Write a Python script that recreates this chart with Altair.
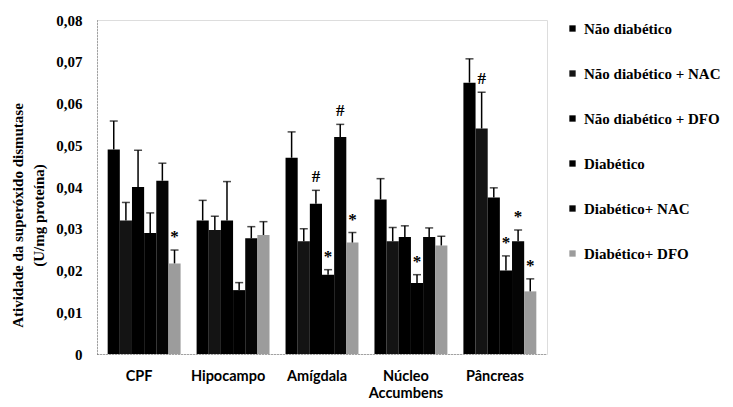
import altair as alt
import pandas as pd

groups = ["CPF", "Hipocampo", "Amígdala", "Núcleo Accumbens", "Pâncreas"]
series = ["Não diabético", "Não diabético + NAC", "Não diabético + DFO",
          "Diabético", "Diabético+ NAC", "Diabético+ DFO"]
colors = ["#000000", "#141414", "#000000", "#000000", "#050505", "#9c9c9c"]

# mean values per series (order of groups)
nd = [0.049, 0.032, 0.047, 0.037, 0.065]
nd_nac = [0.032, 0.0297, 0.027, 0.027, 0.054]
nd_dfo = [0.040, 0.032, 0.036, 0.028, 0.0375]
d = [0.029, 0.0153, 0.019, 0.017, 0.020]
d_nac = [0.0415, 0.0277, 0.052, 0.028, 0.027]
d_dfo = [0.0217, 0.0285, 0.0267, 0.026, 0.015]

# error bar upper extents (above the mean)
nd_err = [0.0068, 0.0048, 0.0062, 0.005, 0.0057]
nd_nac_err = [0.0043, 0.0033, 0.003, 0.0033, 0.0087]
nd_dfo_err = [0.0088, 0.0093, 0.0032, 0.0027, 0.0023]
d_err = [0.0048, 0.0018, 0.0012, 0.002, 0.0035]
d_nac_err = [0.0042, 0.0028, 0.003, 0.0022, 0.0027]
d_dfo_err = [0.0032, 0.0032, 0.0024, 0.0022, 0.003]

# significance marks
nd_mark = ["", "", "", "", ""]
nd_nac_mark = ["", "", "", "", "#"]
nd_dfo_mark = ["", "", "#", "", ""]
d_mark = ["", "", "*", "*", "*"]
d_nac_mark = ["", "", "#", "", "*"]
d_dfo_mark = ["*", "", "*", "", "*"]

means = [nd, nd_nac, nd_dfo, d, d_nac, d_dfo]
errs = [nd_err, nd_nac_err, nd_dfo_err, d_err, d_nac_err, d_dfo_err]
marks = [nd_mark, nd_nac_mark, nd_dfo_mark, d_mark, d_nac_mark, d_dfo_mark]

rows = []
for s, m, e, k in zip(series, means, errs, marks):
    for i, g in enumerate(groups):
        rows.append({"group": g, "series": s, "mean": m[i],
                     "upper": m[i] + e[i], "mark": k[i]})
df = pd.DataFrame(rows)

serif = "'Liberation Serif', 'Times New Roman', Times, serif"
sans = "Lato, 'Open Sans', sans-serif"

x = alt.X("group:N", sort=groups,
          scale=alt.Scale(paddingInner=0.18, paddingOuter=0.12),
          axis=alt.Axis(title=None, labelAngle=0, labelFont=sans,
                        labelFontWeight="bold", labelFontSize=14.5,
                        labelColor="black", labelPadding=15, tickSize=0,
                        labelOffset=-5,
                        domainDash=[1, 2], domainColor="#666",
                        labelLineHeight=17,
                        labelExpr="datum.value == 'Núcleo Accumbens' ? ['Núcleo', 'Accumbens'] : datum.value"))
xo = alt.XOffset("series:N", sort=series,
                 scale=alt.Scale(paddingInner=0, paddingOuter=0))
yvals = [0, 0.01, 0.02, 0.03, 0.04, 0.05, 0.06, 0.07, 0.08]
y = alt.Y("mean:Q", scale=alt.Scale(domain=[0, 0.08], nice=False),
          axis=alt.Axis(values=yvals, grid=False, tickSize=0,
                        title=["Atividade da superóxido dismutase", "(U/mg proteína)"],
                        titleFont=serif, titleFontWeight="bold", titleFontSize=15,
                        titleColor="black", titleLineHeight=21,
                        titleX=-87, titleY=195, titleAngle=-90,
                        titleBaseline="top", titleAlign="center",
                        labelFont=serif, labelFontWeight="bold", labelFontSize=15,
                        labelColor="black", labelPadding=15,
                        domainDash=[1, 2], domainColor="#666",
                        labelExpr="datum.value == 0 ? '0' : replace(format(datum.value, '.2f'), '.', ',')"))

color = alt.Color("series:N", sort=series,
                  scale=alt.Scale(domain=series, range=colors),
                  legend=alt.Legend(title=None, orient="none", legendX=468, legendY=1,
                                    symbolType="square", symbolSize=40,
                                    symbolStrokeWidth=0, padding=0,
                                    labelFont=serif, labelFontSize=15,
                                    labelFontWeight="bold", labelColor="black",
                                    rowPadding=29, labelOffset=4, labelLimit=200))

base = alt.Chart(df)
bars = base.mark_bar().encode(x=x, xOffset=xo, y=y, color=color)
rules = base.mark_rule(color="black", strokeWidth=1.5).encode(
    x=x, xOffset=xo, y="mean:Q", y2="upper:Q")
caps = base.mark_tick(color="black", thickness=1.5, size=8).encode(
    x=x, xOffset=xo, y="upper:Q")
texts = base.mark_text(dy=-13, font=serif, fontWeight="bold", fontSize=17,
                       color="black").encode(
    x=x, xOffset=xo, y="upper:Q", text="mark:N")

chart = alt.layer(bars, rules, caps, texts).properties(
    width=450, height=334,
    autosize=alt.AutoSizeParams(type="none"),
    padding={"left": 89, "top": 12, "right": 175, "bottom": 45},
).configure_view(stroke=None).configure(background="white")

chart.save("out.html", embed_options={"renderer": "svg", "actions": False})
